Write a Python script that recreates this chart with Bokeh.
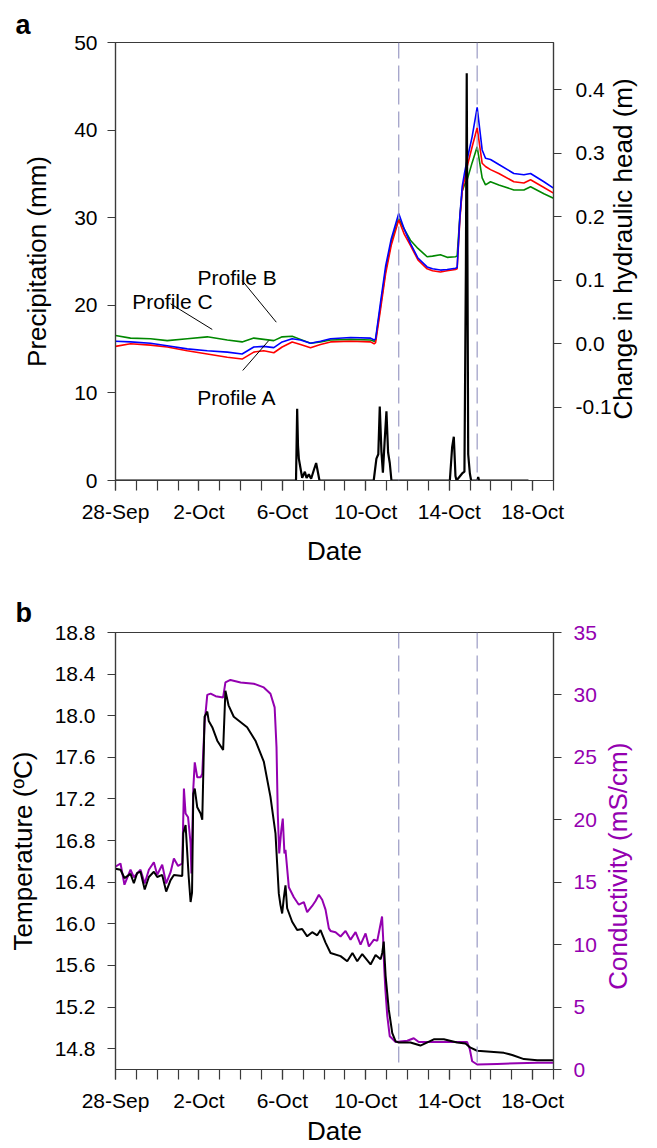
import math
from bokeh.plotting import figure
from bokeh.models import (Range1d, LinearAxis, FixedTicker, Span, NumeralTickFormatter)
from bokeh.layouts import column
from bokeh.embed import file_html
from bokeh.resources import INLINE
from bokeh.core.properties import value

FONT = "Liberation Sans"
AXC = "#3a3a3a"
PURPLE = "#9400B0"
DASH_C = "#9A9AC4"

# ---------------- data ----------------
# x axis: days since 28-Sep
date_tick_days = [0, 4, 8, 12, 16, 20]
date_tick_labels = ["28-Sep", "2-Oct", "6-Oct", "10-Oct", "14-Oct", "18-Oct"]
day_minor = list(range(0, 22))
event_days = [13.58, 17.34]

# precipitation (mm)
precip_day = [0.0, 8.655, 8.71, 8.75, 8.79, 8.87, 8.95, 9.08, 9.16, 9.27, 9.38, 9.51, 9.62,
              9.70, 9.78, 12.38, 12.51, 12.60, 12.67, 12.75, 12.82, 12.90, 12.99, 13.07,
              13.15, 13.23, 16.03, 16.14, 16.22, 16.30, 16.35, 16.62, 16.73, 16.80, 16.84,
              16.91, 16.99, 17.05, 17.35, 17.39, 17.43, 19.8]
precip_mm = [0, 0, 8.2, 4.0, 2.5, 1.4, 0.3, 1.0, 0.3, 0.7, 0.2, 1.2, 2.0,
             1.0, 0, 0, 2.5, 3.0, 8.45, 3.3, 0.9, 4.3, 7.9, 3.2,
             2.0, 0, 0, 3.8, 5.0, 0.5, 0, 0.8, 1.0, 24.5, 46.5,
             3.0, 0.8, 0, 0, 0.4, 0, 0]

# change in hydraulic head (m)
head_day = [0.0, 0.72, 1.68, 2.48, 3.44, 4.40, 5.36, 6.07, 6.63, 7.11, 7.59, 7.99, 8.47,
            8.87, 9.35, 9.83, 10.31, 11.27, 12.23, 12.40, 12.47, 12.71, 12.95, 13.22, 13.58,
            13.85, 14.14, 14.50, 14.94, 15.20, 15.58, 15.90, 16.30, 16.38, 16.51, 16.62,
            16.73, 16.86, 17.10, 17.34, 17.58, 17.74, 17.98, 18.38, 19.10, 19.58, 19.90,
            20.54, 21.0]
head_A = [-0.004, 0.000, -0.002, -0.005, -0.011, -0.016, -0.021, -0.024, -0.013, -0.011,
          -0.014, -0.005, 0.003, -0.001, -0.006, -0.001, 0.003, 0.004, 0.003, 0.000, 0.002,
          0.055, 0.110, 0.155, 0.195, 0.172, 0.155, 0.132, 0.118, 0.115, 0.113, 0.115, 0.117,
          0.118, 0.195, 0.240, 0.258, 0.279, 0.310, 0.340, 0.284, 0.279, 0.274, 0.268, 0.255,
          0.253, 0.258, 0.246, 0.237]
head_B = [0.004, 0.003, 0.001, -0.003, -0.008, -0.011, -0.013, -0.016, -0.005, -0.004,
          -0.006, 0.003, 0.008, 0.006, 0.001, 0.004, 0.008, 0.010, 0.009, 0.006, 0.008,
          0.066, 0.122, 0.165, 0.205, 0.180, 0.158, 0.135, 0.121, 0.118, 0.116, 0.117, 0.119,
          0.120, 0.200, 0.247, 0.268, 0.290, 0.326, 0.372, 0.305, 0.292, 0.290, 0.282, 0.268,
          0.266, 0.268, 0.255, 0.245]
head_C = [0.013, 0.009, 0.008, 0.005, 0.008, 0.011, 0.006, 0.003, 0.009, 0.007,
          0.005, 0.011, 0.012, 0.007, 0.001, 0.003, 0.006, 0.007, 0.006, 0.004, 0.006,
          0.060, 0.115, 0.160, 0.197, 0.180, 0.163, 0.150, 0.137, 0.138, 0.140, 0.136, 0.137,
          0.138, 0.200, 0.240, 0.250, 0.258, 0.285, 0.310, 0.261, 0.250, 0.255, 0.250, 0.242,
          0.242, 0.247, 0.236, 0.229]

# temperature (degC)
temp_day = [0.0, 0.24, 0.43, 0.72, 0.88, 1.04, 1.20, 1.40, 1.60, 1.84, 2.00, 2.24, 2.43,
            2.64, 2.80, 3.20, 3.25, 3.36, 3.51, 3.60, 3.67, 3.73, 3.80, 3.92, 4.08, 4.16,
            4.27, 4.40, 4.47, 4.64, 4.88, 5.16, 5.27, 5.42, 5.67, 6.31, 6.71, 7.11, 7.43,
            7.67, 7.75, 7.83, 7.91, 7.99, 8.07, 8.15, 8.23, 8.47, 8.71, 8.95, 9.19, 9.43,
            9.67, 9.83, 10.07, 10.31, 10.79, 11.11, 11.36, 11.59, 11.83, 12.23, 12.47, 12.71,
            12.79, 12.86, 12.95, 13.10, 13.27, 13.43, 13.58, 14.14, 14.62, 15.26, 15.74,
            16.38, 16.78, 17.02, 17.34, 17.98, 18.62, 19.02, 19.58, 20.22, 21.0]
temp_c = [16.53, 16.52, 16.44, 16.48, 16.39, 16.49, 16.50, 16.33, 16.45, 16.50, 16.45, 16.47,
          16.31, 16.42, 16.47, 16.46, 16.87, 16.95, 16.45, 16.21, 16.30, 17.25, 17.30, 17.12,
          17.06, 17.00, 17.99, 18.04, 17.95, 17.89, 17.76, 17.67, 18.24, 18.10, 17.99, 17.89,
          17.76, 17.56, 17.22, 16.87, 16.58, 16.29, 16.18, 16.10, 16.25, 16.37, 16.15, 16.02,
          15.94, 15.95, 15.88, 15.92, 15.89, 15.94, 15.82, 15.72, 15.69, 15.64, 15.72, 15.64,
          15.71, 15.61, 15.70, 15.66, 15.72, 15.83, 15.50, 15.18, 14.95, 14.87, 14.86, 14.86,
          14.83, 14.89, 14.89, 14.86, 14.85, 14.81, 14.78, 14.77, 14.76, 14.74, 14.70, 14.69,
          14.69]

# conductivity (mS/cm)
cond_day = [0.0, 0.24, 0.43, 0.72, 0.88, 1.20, 1.40, 1.60, 1.84, 2.00, 2.24, 2.43, 2.64,
            2.80, 3.00, 3.20, 3.28, 3.36, 3.48, 3.60, 3.64, 3.73, 3.80, 3.92, 4.08, 4.16,
            4.27, 4.40, 4.56, 4.80, 5.16, 5.27, 5.51, 6.00, 6.63, 7.11, 7.43, 7.63, 7.72,
            7.78, 7.85, 7.95, 8.02, 8.10, 8.15, 8.31, 8.55, 8.79, 9.03, 9.19, 9.43, 9.59,
            9.75, 9.91, 10.07, 10.23, 10.31, 10.55, 10.79, 11.03, 11.27, 11.51, 11.75, 11.99,
            12.15, 12.39, 12.55, 12.78, 12.83, 12.88, 12.94, 13.03, 13.15, 13.43, 13.99,
            14.30, 14.54, 15.10, 16.38, 16.86, 16.99, 17.10, 17.34, 18.30, 19.26, 20.22, 21.0]
cond_ms = [16.25, 16.5, 14.8, 16.0, 15.4, 16.0, 14.9, 16.0, 16.6, 15.6, 16.4, 14.9, 15.8,
           16.9, 16.3, 16.5, 22.5, 20.5, 20.2, 18.1, 15.7, 22.5, 24.6, 23.4, 23.4, 23.7,
           27.7, 30.0, 30.1, 29.9, 29.8, 31.0, 31.2, 31.0, 30.9, 30.6, 30.1, 29.0, 25.8,
           20.5, 17.3, 19.2, 20.1, 17.3, 17.6, 14.6, 13.8, 13.2, 13.4, 12.6, 13.1, 13.5,
           14.0, 13.6, 12.8, 11.3, 11.1, 11.0, 10.65, 11.1, 10.4, 11.0, 10.0, 10.9,
           9.85, 10.4, 10.3, 12.25, 10.6, 8.25, 6.4, 4.3, 2.66, 2.2, 2.3,
           2.5, 2.2, 2.2, 2.2, 2.2, 1.6, 0.66, 0.40, 0.45, 0.50, 0.55, 0.55]

# profile annotations (label, text x/y, leader line x0,y0,x1,y1) in days / mm
ann_text = ["Profile B", "Profile C", "Profile A"]
ann_x = [3.93, 0.80, 3.92]
ann_y = [23.2, 20.4, 9.5]
lead_x0 = [6.07, 2.64, 6.10]
lead_y0 = [22.83, 20.17, 12.56]
lead_x1 = [7.71, 4.64, 7.35]
lead_y1 = [18.07, 17.24, 15.98]


# ---------------- helpers ----------------
def style_axis(ax, label, label_standoff, title_standoff, tick_out=8):
    ax.axis_label = label
    ax.axis_label_text_font = FONT
    ax.axis_label_text_font_size = "26px"
    ax.axis_label_text_font_style = "normal"
    ax.axis_label_text_color = "black"
    ax.axis_label_standoff = title_standoff
    ax.major_label_text_font = FONT
    ax.major_label_text_font_size = "21px"
    ax.major_label_text_color = "black"
    ax.major_label_standoff = label_standoff
    ax.axis_line_color = AXC
    ax.axis_line_width = 1.2
    ax.major_tick_line_color = AXC
    ax.minor_tick_line_color = AXC
    ax.major_tick_line_width = 1.2
    ax.minor_tick_line_width = 1.2
    ax.major_tick_out = tick_out
    ax.major_tick_in = 0
    ax.minor_tick_out = tick_out
    ax.minor_tick_in = 0


def make_fig(letter, height, top, bottom, y_range, date_title_standoff, title_standoff):
    p = figure(width=657, height=height, x_range=Range1d(0, 21), y_range=y_range,
               output_backend="svg", toolbar_location=None, title=letter,
               min_border_left=115, min_border_right=104, min_border_top=top,
               min_border_bottom=bottom)
    p.grid.visible = False
    p.outline_line_color = AXC
    p.outline_line_width = 1.2
    p.background_fill_color = "white"
    p.border_fill_color = "white"
    p.title.align = "left"
    p.title.offset = -100
    p.title.text_font = FONT
    p.title.text_font_size = "27px"
    p.title.text_font_style = "bold"
    p.title.text_color = "black"
    p.title.standoff = title_standoff
    xa = p.xaxis[0]
    xa.ticker = FixedTicker(ticks=date_tick_days, minor_ticks=day_minor)
    xa.major_label_overrides = {d: s for d, s in zip(date_tick_days, date_tick_labels)}
    style_axis(xa, "Date", 9, date_title_standoff, tick_out=10)
    for d in event_days:
        p.add_layout(Span(location=d, dimension="height", line_color=DASH_C,
                          line_dash="16 7", line_width=1.2))
    return p


def right_title_axis(p, text, range_name, at_value, color, standoff):
    """A line-less axis whose single tick label is the right-hand title,
    rotated to read bottom-to-top (it starts at at_value)."""
    ax = LinearAxis(y_range_name=range_name, ticker=FixedTicker(ticks=[at_value]))
    style_axis(ax, None, standoff, 0, tick_out=0)
    ax.major_label_overrides = {at_value: text}
    ax.major_label_orientation = math.pi / 2
    ax.major_label_text_font_size = "26px"
    ax.major_label_text_color = color
    ax.axis_line_color = None
    ax.major_tick_line_color = None
    ax.minor_tick_line_color = None
    p.add_layout(ax, "right")


# ---------------- panel a ----------------
pa = make_fig("a", 575, 42, 95, Range1d(0, 50), 10, 6)
ya = pa.yaxis[0]
ya.ticker = FixedTicker(ticks=[0, 10, 20, 30, 40, 50])
style_axis(ya, "Precipitation (mm)", 10, 19)
ya.minor_tick_line_color = None

pa.extra_y_ranges = {"head": Range1d(-0.215, 0.474)}
ra = LinearAxis(y_range_name="head",
                ticker=FixedTicker(ticks=[-0.1, 0.0, 0.1, 0.2, 0.3, 0.4]),
                formatter=NumeralTickFormatter(format="0.0"))
style_axis(ra, None, 14, 0)
ra.minor_tick_line_color = None
pa.add_layout(ra, "right")
right_title_axis(pa, "Change in hydraulic head (m)", "head", -0.119, "black", 9)

pa.line(head_day, head_C, y_range_name="head", line_color="#008800", line_width=1.6)
pa.line(head_day, head_A, y_range_name="head", line_color="#FF0000", line_width=1.6)
pa.line(head_day, head_B, y_range_name="head", line_color="#0000FF", line_width=1.6)
pa.line(precip_day, precip_mm, line_color="black", line_width=2.2)

pa.segment(x0=lead_x0, y0=lead_y0, x1=lead_x1, y1=lead_y1, line_color="black", line_width=1)
pa.text(x=ann_x, y=ann_y, text=ann_text, text_font=value(FONT), text_font_size=value("21px"),
        text_align="left", text_baseline="alphabetic", text_color="black")

# ---------------- panel b ----------------
pb = make_fig("b", 573, 57, 78, Range1d(14.6, 18.8), 1, 10)
yb = pb.yaxis[0]
yb.ticker = FixedTicker(ticks=[14.8, 15.2, 15.6, 16.0, 16.4, 16.8, 17.2, 17.6, 18.0, 18.4, 18.8])
yb.formatter = NumeralTickFormatter(format="0.0")
style_axis(yb, "Temperature (ºC)", 12, 14)
yb.minor_tick_line_color = None

pb.extra_y_ranges = {"cond": Range1d(0, 35)}
rb = LinearAxis(y_range_name="cond", ticker=FixedTicker(ticks=[0, 5, 10, 15, 20, 25, 30, 35]))
style_axis(rb, None, 12, 0)
rb.minor_tick_line_color = None
rb.major_label_text_color = PURPLE
pb.add_layout(rb, "right")
right_title_axis(pb, "Conductivity (mS/cm)", "cond", 6.39, PURPLE, 19)

pb.line(cond_day, cond_ms, y_range_name="cond", line_color=PURPLE, line_width=2)
pb.line(temp_day, temp_c, line_color="black", line_width=2)

layout = column(pa, pb)
with open("out.html", "w") as f:
    f.write(file_html(layout, INLINE))
